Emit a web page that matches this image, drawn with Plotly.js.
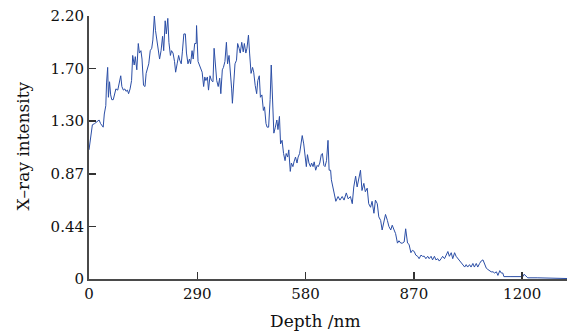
<!DOCTYPE html>
<html>
<head>
<meta charset="utf-8">
<script src="https://cdn.plot.ly/plotly-3.0.1.min.js"></script>
<style>html,body{margin:0;padding:0;background:#fff;}#chart{width:576px;height:335px;}</style>
</head>
<body>
<div id="chart"></div>
<script>
const depth = [0,4,9,15,22,27,31,34,38,41,45,47,50,52,55,58,61,65,69,72,77,81,85,88,92,96,99,103,106,110,114,117,121,124,128,132,135,139,142,146,150,153,157,160,164,168,171,175,178,182,186,189,193,197,200,204,207,211,214,218,221,225,229,232,236,240,243,247,250,254,258,261,265,269,272,276,279,283,287,288,292,295,299,303,307,310,313,317,320,324,328,332,335,339,342,346,350,353,357,360,364,368,371,375,378,382,384,387,391,395,398,402,405,409,413,416,420,423,427,430,434,438,441,445,449,452,456,459,463,467,470,474,477,481,485,488,492,495,499,503,506,510,513,517,521,525,528,532,535,539,542,546,549,553,557,560,564,568,571,575,578,582,585,589,593,596,600,603,607,611,614,618,622,625,629,632,636,640,643,647,
649,656,661,667,672,678,683,689,694,700,705,709,714,718,722,727,731,736,740,745,749,754,758,763,767,772,776,781,785,790,794,799,803,808,812,817,821,826,830,835,839,844,848,853,857,862,866,871,875,880,884,889,893,898,902,907,911,916,920,925,929,934,938,943,947,952,956,961,965,970,974,979,983,988,992,997,1001,1006,1010,1014,1019,1023,1028,1032,1037,1041,1046,1050,1055,1059,1064,1068,1073,1077,1082,1086,1091,1095,1100,1104,1108,1111,1130,1150,1162,1165,1170,1175,1200,1244,1248,1280];
const intensity = [1.08,1.19,1.29,1.30,1.32,1.33,1.30,1.29,1.27,1.38,1.45,1.64,1.77,1.52,1.65,1.54,1.50,1.50,1.54,1.59,1.58,1.65,1.70,1.61,1.58,1.59,1.57,1.58,1.55,1.59,1.66,1.87,1.79,1.86,1.75,1.97,1.89,1.91,1.84,1.62,1.61,1.72,1.77,1.80,1.91,1.93,2.00,2.20,2.08,2.00,1.89,1.84,1.91,2.03,1.91,2.16,2.05,2.18,1.98,1.87,1.91,1.89,1.82,1.73,1.80,1.87,1.83,1.80,1.90,2.05,2.05,1.89,1.80,1.84,1.80,1.91,1.84,1.97,1.97,2.12,1.82,1.79,1.77,1.73,1.61,1.69,1.66,1.69,1.58,1.70,1.66,1.65,1.93,1.77,1.66,1.61,1.68,1.55,1.75,1.77,1.82,1.98,1.80,1.87,1.77,1.59,1.47,1.64,1.80,1.83,1.97,1.93,1.89,1.98,1.90,1.97,1.89,1.93,2.04,1.89,1.72,1.77,1.73,1.62,1.55,1.66,1.70,1.52,1.54,1.41,1.44,1.30,1.27,1.27,1.50,1.79,1.50,1.22,1.27,1.33,1.25,1.36,1.13,1.16,1.05,0.99,1.05,1.02,1.08,0.90,0.97,0.94,0.98,1.02,0.97,1.02,1.05,1.13,1.20,1.13,1.02,0.94,1.04,0.97,0.94,0.97,0.94,0.98,0.91,0.95,0.94,0.97,1.04,1.05,0.95,0.94,0.99,1.16,0.91,0.91,
0.83,0.74,0.65,0.69,0.66,0.69,0.66,0.72,0.67,0.69,0.63,0.77,0.86,0.77,0.83,0.91,0.74,0.80,0.73,0.76,0.63,0.60,0.65,0.55,0.66,0.63,0.52,0.49,0.41,0.49,0.54,0.49,0.44,0.41,0.45,0.41,0.38,0.30,0.32,0.30,0.30,0.31,0.42,0.30,0.29,0.22,0.24,0.23,0.20,0.19,0.17,0.20,0.19,0.19,0.17,0.19,0.17,0.19,0.16,0.19,0.16,0.17,0.15,0.17,0.19,0.17,0.20,0.23,0.19,0.22,0.17,0.22,0.19,0.17,0.15,0.13,0.12,0.10,0.12,0.10,0.12,0.10,0.13,0.10,0.13,0.10,0.13,0.15,0.16,0.12,0.09,0.08,0.07,0.06,0.06,0.05,0.06,0.03,0.07,0.05,0.05,0.02,0.02,0.02,0.02,0.04,0.02,0.01,0.01,0.01,0.004,0.004];
const xTickVals = [0,290,580,870,1160];
const xTickText = ['0','290','580','870','1200'];
const yTickVals = [0,0.44,0.88,1.32,1.76,2.2];
const yTickText = ['0','0.44','0.87','1.30','1.70','2.20'];

const fontFam = '"DejaVu Serif", "Liberation Serif", serif';
const trace = {
  x: depth, y: intensity, type: 'scatter', mode: 'lines',
  line: {color: '#2B4EA6', width: 1}, hoverinfo: 'skip'
};
const axisCommon = {
  showline: true, linecolor: '#4a4a4a', linewidth: 2,
  ticks: 'inside', ticklen: 7, tickwidth: 1.5, tickcolor: '#333',
  showgrid: false, zeroline: false,
  tickfont: {family: fontFam, size: 15, color: '#111'},
  tickmode: 'array'
};
const layout = {
  width: 576, height: 335,
  margin: {l: 89, r: 9, t: 16, b: 56},
  paper_bgcolor: '#ffffff', plot_bgcolor: '#ffffff',
  showlegend: false,
  xaxis: Object.assign({}, axisCommon, {range: [0, 1280], tickvals: xTickVals, ticktext: xTickText}),
  yaxis: Object.assign({}, axisCommon, {range: [0, 2.2], tickvals: yTickVals, ticktext: yTickText}),
  annotations: [
    {text: 'Depth /nm', xref: 'paper', yref: 'paper', x: 0.473, y: -0.115, xanchor: 'center', yanchor: 'top', showarrow: false, font: {family: fontFam, size: 17, color: '#111'}},
    {text: 'X–ray intensity', xref: 'paper', yref: 'paper', x: -0.138, y: 0.504, xanchor: 'center', yanchor: 'middle', textangle: -90, showarrow: false, font: {family: fontFam, size: 17, color: '#111'}}
  ]
};
Plotly.newPlot('chart', [trace], layout, {displayModeBar: false, staticPlot: true});
</script>
</body>
</html>
